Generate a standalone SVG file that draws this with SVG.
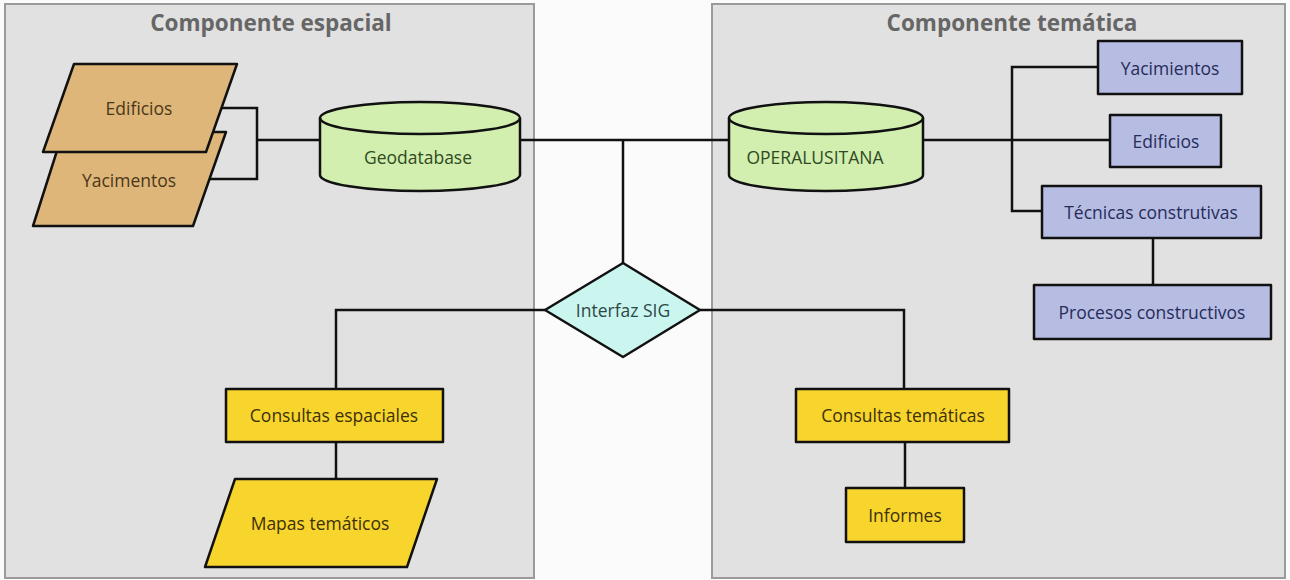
<svg xmlns="http://www.w3.org/2000/svg" width="1290" height="580" viewBox="0 0 1290 580">
<style>
.panel{fill:#e1e1e1;stroke:#9a9a9a;stroke-width:2}
.title{font-family:"Open Sans","DejaVu Sans",sans-serif;font-weight:bold;font-size:22.5px;fill:#666;text-anchor:middle}
.lbl{font-family:"Open Sans","DejaVu Sans",sans-serif;font-size:17.5px;text-anchor:middle;dominant-baseline:central}
.node{stroke:#111;stroke-width:2.5;stroke-linejoin:round}
.tan{fill:#deb679}.tanT{fill:#4a3618}
.green{fill:#d2efb0}.greenT{fill:#2f4a1e}
.blue{fill:#b6bce2}.blueT{fill:#262c5a}
.yel{fill:#f7d52c}.yelT{fill:#3d3008}
.cyan{fill:#cbf5ef}.cyanT{fill:#2b4848}
.conn path{fill:none;stroke:#111;stroke-width:2.5}
</style>
<rect x="0" y="0" width="1290" height="580" fill="#fbfbfb"/>
<g id="panel-espacial"><rect class="panel" x="5" y="4" width="529" height="574"/><text class="title" x="271" y="31">Componente espacial</text></g>
<g id="panel-tematica"><rect class="panel" x="712" y="4" width="573" height="574"/><text class="title" x="1012" y="31">Componente temática</text></g>
<g class="conn" id="connectors">
<path d="M221,108 H257 V179 H209"/>
<path d="M257,140 H320"/>
<path d="M520,140 H729"/>
<path d="M623,140 V263"/>
<path d="M923,140 H1110"/>
<path d="M1098,67 H1012 V211 H1042"/>
<path d="M1153,238 V285"/>
<path d="M545,310 H336 V389"/>
<path d="M336,442 V479"/>
<path d="M700,310 H904 V389"/>
<path d="M905,442 V488"/>
</g>
<g id="yacimentos-capa"><polygon class="node tan" points="63,132 226,132 193,226 33,226"/><text class="lbl tanT" x="129" y="180">Yacimentos</text></g>
<g id="edificios-capa"><polygon class="node tan" points="74,64 237,64 206,152 43,152"/><text class="lbl tanT" x="139" y="108">Edificios</text></g>
<g id="geodatabase"><path class="node green" d="M320,118 V175 A100,16 0 0 0 520,175 V118 A100,16 0 0 0 320,118 Z"/><path class="node" fill="none" d="M320,118 A100,16 0 0 0 520,118"/><text class="lbl greenT" x="418" y="157">Geodatabase</text></g>
<g id="operalusitana"><path class="node green" d="M729,118 V175 A97,16 0 0 0 923,175 V118 A97,16 0 0 0 729,118 Z"/><path class="node" fill="none" d="M729,118 A97,16 0 0 0 923,118"/><text class="lbl greenT" x="815" y="157">OPERALUSITANA</text></g>
<g id="yacimentos"><rect class="node blue" x="1098" y="41" width="144" height="53"/><text class="lbl blueT" x="1170" y="68">Yacimientos</text></g>
<g id="edificios"><rect class="node blue" x="1110" y="115" width="111" height="52"/><text class="lbl blueT" x="1166" y="141">Edificios</text></g>
<g id="tecnicas"><rect class="node blue" x="1042" y="186" width="219" height="52"/><text class="lbl blueT" x="1151" y="212">Técnicas construtivas</text></g>
<g id="procesos"><rect class="node blue" x="1034" y="285" width="237" height="54"/><text class="lbl blueT" x="1152" y="312">Procesos constructivos</text></g>
<g id="interfaz"><polygon class="node cyan" points="623,263 700,310 623,357 545,310"/><text class="lbl cyanT" x="623" y="310">Interfaz SIG</text></g>
<g id="consultas-espaciales"><rect class="node yel" x="226" y="389" width="217" height="53"/><text class="lbl yelT" x="334" y="415">Consultas espaciales</text></g>
<g id="mapas"><polygon class="node yel" points="235,479 437,479 407,567 205,567"/><text class="lbl yelT" x="320" y="523">Mapas temáticos</text></g>
<g id="consultas-tematicas"><rect class="node yel" x="796" y="389" width="213" height="53"/><text class="lbl yelT" x="903" y="415">Consultas temáticas</text></g>
<g id="informes"><rect class="node yel" x="846" y="488" width="118" height="54"/><text class="lbl yelT" x="905" y="515">Informes</text></g>
</svg>
